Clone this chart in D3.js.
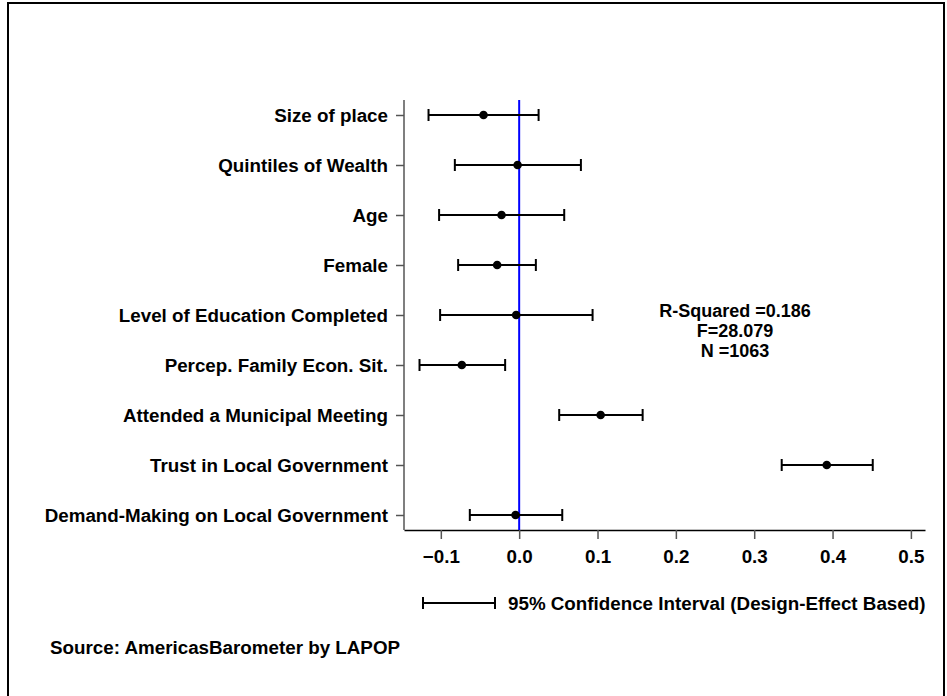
<!DOCTYPE html>
<html>
<head>
<meta charset="utf-8">
<script src="https://cdn.jsdelivr.net/npm/d3@7"></script>
<style>
  html, body { margin: 0; padding: 0; background: #fff; }
  svg { display: block; font-family: "Liberation Sans", Arial, sans-serif; font-weight: bold; }
</style>
</head>
<body>
<svg id="chart" width="947" height="696"></svg>
<script>
const categories = [
  "Size of place",
  "Quintiles of Wealth",
  "Age",
  "Female",
  "Level of Education Completed",
  "Percep. Family Econ. Sit.",
  "Attended a Municipal Meeting",
  "Trust in Local Government",
  "Demand-Making on Local Government"
];
const coefficients = [-0.0455, -0.0020, -0.0225, -0.0281, -0.0038, -0.0732, 0.1040, 0.3926, -0.0046];
const lowerCI      = [-0.1157, -0.0821, -0.1022, -0.0779, -0.1009, -0.1272, 0.0511, 0.3351, -0.0630];
const upperCI      = [ 0.0248,  0.0788,  0.0575,  0.0213,  0.0937, -0.0179, 0.1576, 0.4513,  0.0550];
const xTicks = [-0.1, 0.0, 0.1, 0.2, 0.3, 0.4, 0.5];
const statsLines = ["R-Squared =0.186", "F=28.079", "N =1063"];
const legendLabel = "95% Confidence Interval (Design-Effect Based)";
const sourceLabel = "Source: AmericasBarometer by LAPOP";

const FS = 18.8;
const FONT = "Liberation Sans, Arial, sans-serif";
const svg = d3.select("#chart");

// frame
svg.append("rect")
  .attr("x", 8).attr("y", 3).attr("width", 936).attr("height", 720)
  .attr("fill", "none").attr("stroke", "#000").attr("stroke-width", 2);

const x = d3.scaleLinear().domain([-0.147, 0.518]).range([404, 925]);
const y = d3.scalePoint().domain(categories).range([100, 530]).padding(0.3);

// x axis
const xAxis = svg.append("g").attr("transform", "translate(0,530)")
  .call(d3.axisBottom(x).tickValues(xTicks).tickFormat(d3.format(".1f")).tickSize(9).tickPadding(11).tickSizeOuter(0));
xAxis.select(".domain").attr("stroke", "#000").attr("stroke-width", 1.5);
xAxis.selectAll(".tick line").attr("stroke", "#555").attr("stroke-width", 1.5);
xAxis.selectAll(".tick text").attr("fill", "#000").attr("font-size", FS).attr("font-weight", "bold")
  .attr("font-family", FONT);

// y axis
const yAxis = svg.append("g").attr("transform", "translate(404,0)")
  .call(d3.axisLeft(y).tickSize(8).tickPadding(8).tickSizeOuter(0));
yAxis.select(".domain").attr("stroke", "#555").attr("stroke-width", 1.5)
  .attr("d", `M0,${y.range()[0]}V${y.range()[1]}`);
yAxis.selectAll(".tick line").attr("stroke", "#555").attr("stroke-width", 1.5);
yAxis.selectAll(".tick text").attr("fill", "#000").attr("font-size", FS).attr("font-weight", "bold")
  .attr("font-family", FONT);

// zero reference line
svg.append("line")
  .attr("x1", x(0)).attr("x2", x(0))
  .attr("y1", y.range()[0]).attr("y2", y.range()[1])
  .attr("stroke", "#0000ff").attr("stroke-width", 2);

const rows = categories.map((c, i) => ({ c, b: coefficients[i], lo: lowerCI[i], hi: upperCI[i] }));
const capH = 6;
const g = svg.append("g");
rows.forEach(d => {
  const yy = y(d.c);
  g.append("line").attr("x1", x(d.lo)).attr("x2", x(d.hi)).attr("y1", yy).attr("y2", yy)
    .attr("stroke", "#000").attr("stroke-width", 2);
  [d.lo, d.hi].forEach(v => {
    g.append("line").attr("x1", x(v)).attr("x2", x(v)).attr("y1", yy - capH).attr("y2", yy + capH)
      .attr("stroke", "#000").attr("stroke-width", 2);
  });
  g.append("circle").attr("cx", x(d.b)).attr("cy", yy).attr("r", 4.3).attr("fill", "#000");
});

// stats annotation
statsLines.forEach((t, i) => {
  svg.append("text").attr("x", 735).attr("y", 311 + i * 20).attr("dy", "0.35em")
    .attr("text-anchor", "middle").attr("font-size", 18).attr("fill", "#000").text(t);
});

// legend
const ly = 603;
svg.append("line").attr("x1", 423).attr("x2", 495).attr("y1", ly).attr("y2", ly)
  .attr("stroke", "#000").attr("stroke-width", 2);
[423, 495].forEach(xx => svg.append("line").attr("x1", xx).attr("x2", xx).attr("y1", ly - capH).attr("y2", ly + capH)
  .attr("stroke", "#000").attr("stroke-width", 2));
svg.append("text").attr("x", 508).attr("y", ly).attr("dy", "0.35em")
  .attr("font-size", FS).attr("fill", "#000").text(legendLabel);

// source
svg.append("text").attr("x", 50).attr("y", 647).attr("dy", "0.35em")
  .attr("font-size", FS).attr("fill", "#000").text(sourceLabel);
</script>
</body>
</html>
